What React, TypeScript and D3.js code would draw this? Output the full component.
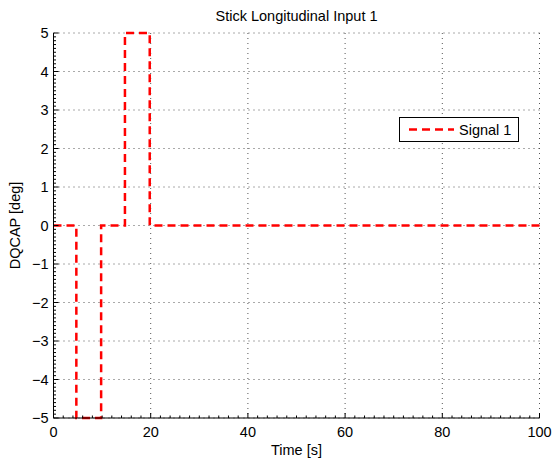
import React from "react";
import * as d3 from "d3";

const timeS = [0, 4.7, 4.7, 9.8, 9.8, 14.7, 14.7, 19.8, 19.8, 100];
const signal1 = [0, 0, -5, -5, 0, 0, 5, 5, 0, 0];
const xTicks = [0, 20, 40, 60, 80, 100];
const yTicks = [-5, -4, -3, -2, -1, 0, 1, 2, 3, 4, 5];
const seriesName = "Signal 1";
const titleText = "Stick Longitudinal Input 1";
const xLabelText = "Time [s]";
const yLabelText = "DQCAP [deg]";

export default function App() {
  const W = 554, H = 461;
  const left = 53.5, right = 539.5, top = 33, bottom = 418;
  const x = d3.scaleLinear().domain([0, 100]).range([left, right]);
  const y = d3.scaleLinear().domain([-5, 5]).range([bottom, top]);
  const line = d3
    .line<number>()
    .x((_, i) => x(timeS[i]))
    .y((d) => y(d));
  const xMinor = d3.range(0, 100.001, 2).filter((v) => v % 20 !== 0);
  const yMinor = d3.range(-50, 51, 1).map((v) => v / 10).filter((v) => Math.abs(v - Math.round(v)) > 1e-6);
  const font = "'Liberation Sans', Arial, sans-serif";
  const fs = 14.5;
  const fmt = (v: number) => (v < 0 ? "\u2212" + Math.abs(v) : String(v));
  return (
    <svg width={W} height={H} style={{ position: "absolute", left: 0, top: 0, background: "#fff" }}>
      <rect x={0} y={0} width={W} height={H} fill="#fff" />
      {/* grid */}
      {xTicks.slice(1).map((t) => (
        <line key={"gx" + t} x1={x(t)} x2={x(t)} y1={top} y2={bottom} stroke="#555" strokeWidth={1} strokeDasharray="1,4" />
      ))}
      {yTicks.map((t) => (
        <line key={"gy" + t} x1={left} x2={right} y1={y(t)} y2={y(t)} stroke="#555" strokeWidth={1} strokeDasharray="1,4" />
      ))}
      {/* data */}
      <path d={line(signal1) || ""} fill="none" stroke="#ff0000" strokeWidth={2.5} strokeDasharray="8,5" />
      {/* axes */}
      <line x1={left} x2={left} y1={top} y2={bottom} stroke="#000" strokeWidth={1} />
      <line x1={left} x2={right} y1={bottom} y2={bottom} stroke="#000" strokeWidth={1} />
      {xTicks.map((t) => (
        <line key={"xt" + t} x1={x(t)} x2={x(t)} y1={bottom} y2={bottom - 5} stroke="#000" />
      ))}
      {xMinor.map((t) => (
        <line key={"xm" + t} x1={x(t)} x2={x(t)} y1={bottom} y2={bottom - 2.5} stroke="#000" />
      ))}
      {yTicks.map((t) => (
        <line key={"yt" + t} x1={left} x2={left + 5} y1={y(t)} y2={y(t)} stroke="#000" />
      ))}
      {yMinor.map((t) => (
        <line key={"ym" + t} x1={left} x2={left + 2.5} y1={y(t)} y2={y(t)} stroke="#000" />
      ))}
      {xTicks.map((t) => (
        <text key={"xl" + t} x={x(t)} y={bottom + 19} textAnchor="middle" fontFamily={font} fontSize={fs} fill="#000">
          {fmt(t)}
        </text>
      ))}
      {yTicks.map((t) => (
        <text key={"yl" + t} x={left - 5} y={y(t) + 5} textAnchor="end" fontFamily={font} fontSize={fs} fill="#000">
          {fmt(t)}
        </text>
      ))}
      <text x={(left + right) / 2} y={21} textAnchor="middle" fontFamily={font} fontSize={fs} fill="#000">
        {titleText}
      </text>
      <text x={(left + right) / 2} y={455} textAnchor="middle" fontFamily={font} fontSize={fs} fill="#000">
        {xLabelText}
      </text>
      <text
        transform={`translate(20,${(top + bottom) / 2}) rotate(-90)`}
        textAnchor="middle"
        fontFamily={font}
        fontSize={fs}
        fill="#000"
      >
        {yLabelText}
      </text>
      {/* legend */}
      <rect x={399.5} y={117.5} width={119} height={24} fill="#fff" stroke="#000" strokeWidth={1} />
      <line x1={409} x2={454} y1={129.5} y2={129.5} stroke="#ff0000" strokeWidth={2.5} strokeDasharray="8,5" />
      <text x={459} y={134.5} fontFamily={font} fontSize={fs} fill="#000">
        {seriesName}
      </text>
    </svg>
  );
}
